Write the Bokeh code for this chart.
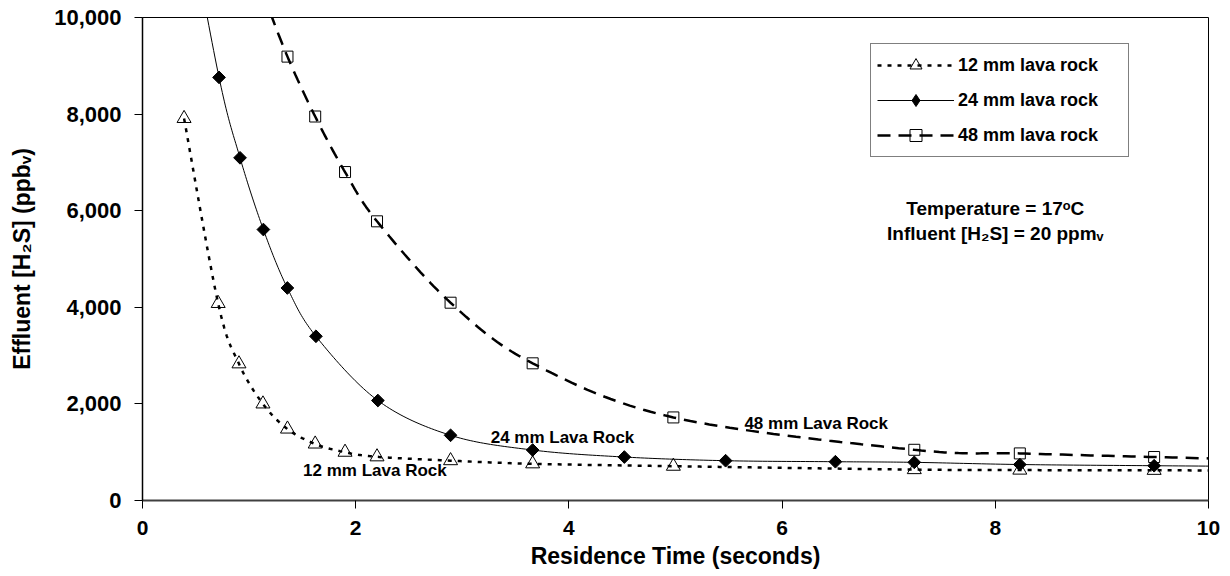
import numpy as np
from bokeh.plotting import figure
from bokeh.models import Range1d, NumeralTickFormatter, FixedTicker, Label, Legend, LegendItem
from bokeh.embed import file_html
from bokeh.resources import INLINE

# Residence time (s) vs effluent H2S (ppbv) for three lava-rock media sizes.
# First/last entries of the 24 mm and 48 mm series fall outside the axis range
# and only shape the smoothed line where it leaves the frame.
t_12 = [0.39, 0.71, 0.905, 1.13, 1.36, 1.62, 1.90, 2.20, 2.89, 3.66, 4.98, 7.24, 8.23, 9.49, 10.8]
h2s_12 = [7910, 4080, 2830, 2000, 1480, 1170, 1000, 905, 825, 760, 710, 640, 630, 625, 620]

t_24 = [0.39, 0.718, 0.915, 1.134, 1.359, 1.627, 2.208, 2.89, 3.66, 4.52, 5.47, 6.50, 7.24, 8.23, 9.49, 10.8]
h2s_24 = [12600, 8760, 7095, 5610, 4400, 3400, 2070, 1350, 1045, 900, 824, 803, 790, 745, 720, 700]

t_48 = [1.13, 1.36, 1.62, 1.90, 2.20, 2.89, 3.66, 4.98, 7.24, 8.23, 9.49, 10.8]
h2s_48 = [10500, 9190, 7950, 6800, 5780, 4095, 2840, 1720, 1050, 975, 900, 830]

x_ticks = [0, 2, 4, 6, 8, 10]
y_ticks = [0, 2000, 4000, 6000, 8000, 10000]

FONT = "Liberation Sans"

W, H = 1230, 576
LEFT, RIGHT, TOP, BOTTOM = 142, 22, 17, 76
X_MAX, Y_MAX = 10, 10000
px_x = (W - LEFT - RIGHT) / X_MAX
px_y = (H - TOP - BOTTOM) / Y_MAX


def smooth(xs, ys, steps=24):
    """Cubic Bezier smoothing (Catmull-Rom control points) computed in screen space."""
    P = np.column_stack([np.asarray(xs) * px_x, np.asarray(ys) * px_y])
    n = len(P)
    out = [P[0]]
    for i in range(n - 1):
        p0 = P[i - 1] if i > 0 else P[i]
        p1, p2 = P[i], P[i + 1]
        p3 = P[i + 2] if i + 2 < n else P[i + 1]
        c1 = p1 + (p2 - p0) / 6.0
        c2 = p2 - (p3 - p1) / 6.0
        t = np.linspace(0, 1, steps + 1)[1:, None]
        seg = ((1 - t) ** 3) * p1 + 3 * ((1 - t) ** 2) * t * c1 + 3 * (1 - t) * t ** 2 * c2 + t ** 3 * p2
        out.extend(seg)
    out = np.array(out)
    return out[:, 0] / px_x, out[:, 1] / px_y


p = figure(width=W, height=H, output_backend="svg", toolbar_location=None,
           x_range=Range1d(0, X_MAX), y_range=Range1d(0, Y_MAX),
           min_border_left=LEFT, min_border_right=RIGHT,
           min_border_top=TOP, min_border_bottom=BOTTOM)

p.background_fill_color = "white"
p.border_fill_color = "white"
p.outline_line_color = "black"
p.outline_line_width = 1
p.grid.visible = False

# axes
p.xaxis.ticker = FixedTicker(ticks=x_ticks)
p.yaxis.ticker = FixedTicker(ticks=y_ticks)
p.yaxis.formatter = NumeralTickFormatter(format="0,0")
for ax in (p.xaxis[0], p.yaxis[0]):
    ax.minor_tick_line_color = None
    ax.major_tick_in = 0
    ax.major_tick_out = 8
    ax.major_tick_line_color = "black"
    ax.major_tick_line_width = 1
    ax.major_label_text_font = FONT
    ax.major_label_text_font_style = "bold"
    ax.major_label_text_color = "black"
    ax.axis_label_text_font = FONT
    ax.axis_label_text_font_style = "bold"
    ax.axis_label_text_color = "black"

p.xaxis.axis_line_color = "#404040"
p.xaxis.axis_line_width = 2
p.yaxis.axis_line_color = "black"
p.yaxis.axis_line_width = 1.5

p.xaxis.major_label_text_font_size = "21px"
p.yaxis.major_label_text_font_size = "22px"
p.xaxis.major_label_standoff = 12
p.yaxis.major_label_standoff = 13
p.xaxis.axis_label = "Residence Time (seconds)"
p.yaxis.axis_label = "Effluent [H\u2082S] (ppb\u1d65)"
p.xaxis.axis_label_text_font_size = "23px"
p.yaxis.axis_label_text_font_size = "23px"
p.xaxis.axis_label_standoff = 5
p.yaxis.axis_label_standoff = 16

# 12 mm: dotted line, hollow triangles
sx, sy = smooth(t_12, h2s_12)
l12 = p.line(sx, sy, line_color="black", line_width=2.5, line_dash="4 6")
m12 = p.scatter(t_12, h2s_12, marker="triangle", size=14, line_color="black",
                line_width=1, fill_alpha=0)

# 24 mm: thin solid line, filled diamonds (rotated squares)
sx, sy = smooth(t_24, h2s_24)
l24 = p.line(sx, sy, line_color="black", line_width=1)
m24 = p.scatter(t_24, h2s_24, marker="square", angle=np.pi / 4, size=9,
                line_color="black", fill_color="black")
# legend swatch for the diamond symbol (legend swatches ignore marker angle);
# it sits on the off-scale first point, so only the legend shows it
k24 = p.scatter(t_24[:1], h2s_24[:1], marker="diamond", size=12,
                line_color="black", fill_color="black")

# 48 mm: long dashes, hollow squares
sx, sy = smooth(t_48, h2s_48)
l48 = p.line(sx, sy, line_color="black", line_width=2.5, line_dash="13 8")
m48 = p.scatter(t_48, h2s_48, marker="square", size=11, line_color="black",
                line_width=1, fill_alpha=0)

legend = Legend(items=[
    LegendItem(label="12 mm lava rock", renderers=[l12, m12]),
    LegendItem(label="24 mm lava rock", renderers=[l24, k24]),
    LegendItem(label="48 mm lava rock", renderers=[l48, m48]),
], location=(728, 343))
legend.margin = 0
legend.padding = 6
legend.spacing = 5
legend.glyph_width = 77
legend.glyph_height = 30
legend.label_height = 30
legend.label_width = 164
legend.label_standoff = 4
legend.border_line_color = "black"
legend.border_line_width = 1
legend.background_fill_color = "white"
legend.background_fill_alpha = 1
legend.label_text_font = FONT
legend.label_text_font_style = "bold"
legend.label_text_font_size = "18px"
legend.label_text_color = "black"
p.add_layout(legend, "center")

# curve annotations
for txt, x, y in [("12 mm Lava Rock", 2.18, 616),
                  ("24 mm Lava Rock", 3.94, 1300),
                  ("48 mm Lava Rock", 6.32, 1585)]:
    p.add_layout(Label(x=x, y=y, text=txt, text_align="center", text_baseline="middle",
                       text_font=FONT, text_font_style="bold", text_font_size="17px",
                       text_color="black"))

# test conditions
for txt, y in [("Temperature = 17\u1d52C", 6050), ("Influent [H\u2082S] = 20 ppm\u1d65", 5530)]:
    p.add_layout(Label(x=8.0, y=y, text=txt, text_align="center", text_baseline="middle",
                       text_font=FONT, text_font_style="bold", text_font_size="19px",
                       text_color="black"))

open("out.html", "w").write(file_html(p, INLINE))
